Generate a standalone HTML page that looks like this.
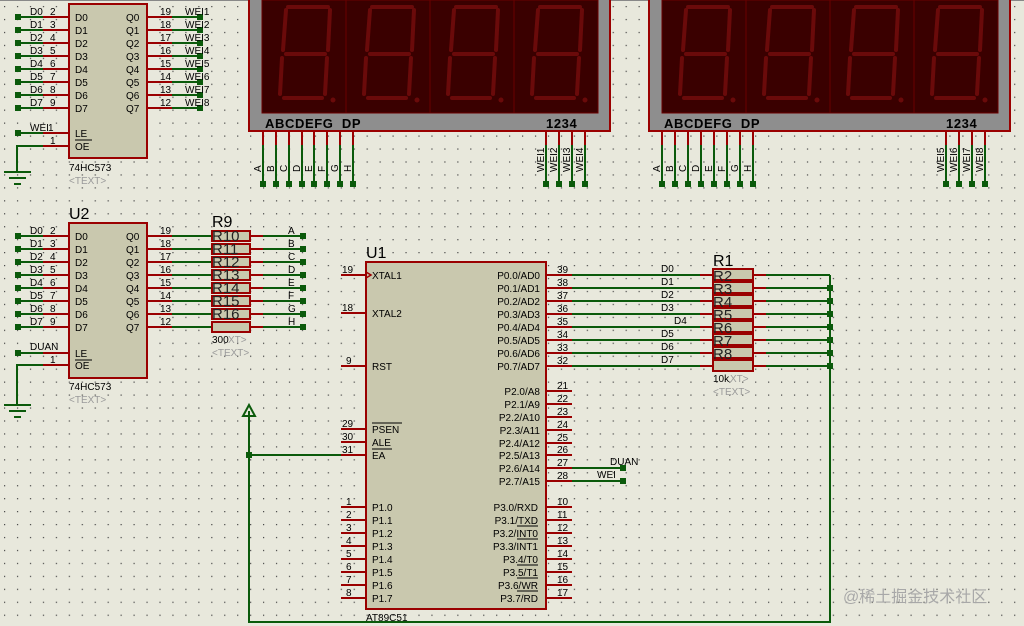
<!DOCTYPE html>
<html><head><meta charset="utf-8"><style>
html,body{margin:0;padding:0;background:#e8e8dc;}
svg{display:block;font-family:"Liberation Sans",sans-serif;}
.r{stroke:#9a0000;stroke-width:2;fill:none}
.g{stroke:#0b5a0b;stroke-width:2;fill:none}
.t{font-size:10px;fill:#000}
.gt{font-size:10px;fill:#9a9a9a}
.big{font-size:16px;fill:#000}
.chip{fill:#c9c8ae;stroke:#9a0000;stroke-width:2}
.seg{stroke:#6a0a0a;stroke-width:4;fill:none;stroke-linecap:round}
.dl{font-size:13px;font-weight:bold;fill:#000;letter-spacing:0.6px}
</style></head><body>
<svg width="1024" height="626" viewBox="0 0 1024 626" xmlns="http://www.w3.org/2000/svg">
<defs>
<pattern id="dots" x="4" y="0" width="12.95" height="12.95" patternUnits="userSpaceOnUse"><rect x="0" y="6" width="1.2" height="1.2" fill="#444"/></pattern>
<g id="dig">
<rect x="0" y="0" width="84" height="113" fill="#3a0000" stroke="#6a0000" stroke-width="1"/>
<path class="seg" d="M26 7 L66 7 M24 10 L21 50 M68 10 L66 50 M24 54 L63 54 M20 58 L18 94 M65 58 L63 94 M22 98 L60 98"/>
<circle cx="71" cy="100" r="2.5" fill="#6a0a0a"/>
</g>
<g id="gnd"><line class="g" x1="0" y1="0" x2="27" y2="0"/><line class="g" x1="5" y1="6" x2="22" y2="6"/><line class="g" x1="10" y1="12" x2="17" y2="12" stroke-width="1.5"/></g>
<rect id="dt" x="-3" y="-3" width="6" height="6" fill="#0b5a0b"/>
</defs>
<rect width="1024" height="626" fill="#e8e8dc"/>
<rect width="1024" height="626" fill="url(#dots)"/>
<line x1="0" y1="0.5" x2="1024" y2="0.5" stroke="#888"/>

<!-- ===== Top latch ===== -->
<g>
<path class="g" d="M18 17H43M18 30H43M18 43H43M18 56H43M18 69H43M18 82H43M18 95H43M18 108H43M18 133H43"/>
<path class="r" d="M43 17H69M43 30H69M43 43H69M43 56H69M43 69H69M43 82H69M43 95H69M43 108H69M43 133H69M43 146H69"/>
<path class="g" d="M43 146H17V172"/>
<use href="#gnd" x="4" y="172"/>
<use href="#dt" x="18" y="17"/><use href="#dt" x="18" y="30"/><use href="#dt" x="18" y="43"/><use href="#dt" x="18" y="56"/><use href="#dt" x="18" y="69"/><use href="#dt" x="18" y="82"/><use href="#dt" x="18" y="95"/><use href="#dt" x="18" y="108"/><use href="#dt" x="18" y="133"/>
<path class="r" d="M147 17H172M147 30H172M147 43H172M147 56H172M147 69H172M147 82H172M147 95H172M147 108H172"/>
<path class="g" d="M172 17H200M172 30H200M172 43H200M172 56H200M172 69H200M172 82H200M172 95H200M172 108H200"/>
<use href="#dt" x="200" y="17"/><use href="#dt" x="200" y="30"/><use href="#dt" x="200" y="43"/><use href="#dt" x="200" y="56"/><use href="#dt" x="200" y="69"/><use href="#dt" x="200" y="82"/><use href="#dt" x="200" y="95"/><use href="#dt" x="200" y="108"/>
<rect class="chip" x="69" y="4" width="78" height="154"/>
<g class="t">
<text x="30" y="15">D0</text><text x="50" y="15">2</text>
<text x="30" y="28">D1</text><text x="50" y="28">3</text>
<text x="30" y="41">D2</text><text x="50" y="41">4</text>
<text x="30" y="54">D3</text><text x="50" y="54">5</text>
<text x="30" y="67">D4</text><text x="50" y="67">6</text>
<text x="30" y="80">D5</text><text x="50" y="80">7</text>
<text x="30" y="93">D6</text><text x="50" y="93">8</text>
<text x="30" y="106">D7</text><text x="50" y="106">9</text>
<text x="30" y="131">WEI</text><text x="48" y="131">1</text><text x="50" y="144">1</text>
<text x="75" y="21">D0</text><text x="75" y="34">D1</text><text x="75" y="47">D2</text><text x="75" y="60">D3</text><text x="75" y="73">D4</text><text x="75" y="86">D5</text><text x="75" y="99">D6</text><text x="75" y="112">D7</text>
<text x="75" y="137">LE</text><text x="75" y="150">OE</text>
<text x="126" y="21">Q0</text><text x="126" y="34">Q1</text><text x="126" y="47">Q2</text><text x="126" y="60">Q3</text><text x="126" y="73">Q4</text><text x="126" y="86">Q5</text><text x="126" y="99">Q6</text><text x="126" y="112">Q7</text>
<text x="160" y="15">19</text><text x="160" y="28">18</text><text x="160" y="41">17</text><text x="160" y="54">16</text><text x="160" y="67">15</text><text x="160" y="80">14</text><text x="160" y="93">13</text><text x="160" y="106">12</text>
<text x="185" y="15">WEI1</text><text x="185" y="28">WEI2</text><text x="185" y="41">WEI3</text><text x="185" y="54">WEI4</text><text x="185" y="67">WEI5</text><text x="185" y="80">WEI6</text><text x="185" y="93">WEI7</text><text x="185" y="106">WEI8</text>
<text x="69" y="171">74HC573</text>
</g>
<line x1="75" y1="140" x2="92" y2="140" stroke="#000" stroke-width="1"/>
<text class="gt" x="69" y="184">&lt;TEXT&gt;</text>
</g>

<!-- ===== Display 1 ===== -->
<g>
<rect x="249" y="-2" width="361" height="133" fill="#8e8e8e" stroke="#9a0000" stroke-width="2"/>
<use href="#dig" x="262" y="0"/><use href="#dig" x="346" y="0"/><use href="#dig" x="430" y="0"/><use href="#dig" x="514" y="0"/>
<text class="dl" x="265" y="128">ABCDEFG&#160;&#160;DP</text>
<text class="dl" x="546" y="128">1234</text>
<path class="r" d="M263 131V145M276 131V145M289 131V145M302 131V145M314 131V145M327 131V145M340 131V145M353 131V145M546 131V145M559 131V145M572 131V145M585 131V145"/>
<path class="g" d="M263 145V184M276 145V184M289 145V184M302 145V184M314 145V184M327 145V184M340 145V184M353 145V184M546 145V184M559 145V184M572 145V184M585 145V184"/>
<use href="#dt" x="263" y="184"/><use href="#dt" x="276" y="184"/><use href="#dt" x="289" y="184"/><use href="#dt" x="302" y="184"/><use href="#dt" x="314" y="184"/><use href="#dt" x="327" y="184"/><use href="#dt" x="340" y="184"/><use href="#dt" x="353" y="184"/><use href="#dt" x="546" y="184"/><use href="#dt" x="559" y="184"/><use href="#dt" x="572" y="184"/><use href="#dt" x="585" y="184"/>
<g class="t">
<text transform="translate(261,172) rotate(-90)">A</text><text transform="translate(274,172) rotate(-90)">B</text><text transform="translate(287,172) rotate(-90)">C</text><text transform="translate(300,172) rotate(-90)">D</text><text transform="translate(312,172) rotate(-90)">E</text><text transform="translate(325,172) rotate(-90)">F</text><text transform="translate(338,172) rotate(-90)">G</text><text transform="translate(351,172) rotate(-90)">H</text>
<text transform="translate(544,172) rotate(-90)">WEI1</text><text transform="translate(557,172) rotate(-90)">WEI2</text><text transform="translate(570,172) rotate(-90)">WEI3</text><text transform="translate(583,172) rotate(-90)">WEI4</text>
</g>
</g>

<!-- ===== Display 2 ===== -->
<g>
<rect x="649" y="-2" width="361" height="133" fill="#8e8e8e" stroke="#9a0000" stroke-width="2"/>
<use href="#dig" x="662" y="0"/><use href="#dig" x="746" y="0"/><use href="#dig" x="830" y="0"/><use href="#dig" x="914" y="0"/>
<text class="dl" x="664" y="128">ABCDEFG&#160;&#160;DP</text>
<text class="dl" x="946" y="128">1234</text>
<path class="r" d="M662 131V145M675 131V145M688 131V145M701 131V145M714 131V145M727 131V145M740 131V145M753 131V145M946 131V145M959 131V145M972 131V145M985 131V145"/>
<path class="g" d="M662 145V184M675 145V184M688 145V184M701 145V184M714 145V184M727 145V184M740 145V184M753 145V184M946 145V184M959 145V184M972 145V184M985 145V184"/>
<use href="#dt" x="662" y="184"/><use href="#dt" x="675" y="184"/><use href="#dt" x="688" y="184"/><use href="#dt" x="701" y="184"/><use href="#dt" x="714" y="184"/><use href="#dt" x="727" y="184"/><use href="#dt" x="740" y="184"/><use href="#dt" x="753" y="184"/><use href="#dt" x="946" y="184"/><use href="#dt" x="959" y="184"/><use href="#dt" x="972" y="184"/><use href="#dt" x="985" y="184"/>
<g class="t">
<text transform="translate(660,172) rotate(-90)">A</text><text transform="translate(673,172) rotate(-90)">B</text><text transform="translate(686,172) rotate(-90)">C</text><text transform="translate(699,172) rotate(-90)">D</text><text transform="translate(712,172) rotate(-90)">E</text><text transform="translate(725,172) rotate(-90)">F</text><text transform="translate(738,172) rotate(-90)">G</text><text transform="translate(751,172) rotate(-90)">H</text>
<text transform="translate(944,172) rotate(-90)">WEI5</text><text transform="translate(957,172) rotate(-90)">WEI6</text><text transform="translate(970,172) rotate(-90)">WEI7</text><text transform="translate(983,172) rotate(-90)">WEI8</text>
</g>
</g>

<!-- ===== U2 latch ===== -->
<g>
<text class="big" x="69" y="219">U2</text>
<path class="g" d="M18 236H43M18 249H43M18 262H43M18 275H43M18 288H43M18 301H43M18 314H43M18 327H43M18 353H43"/>
<path class="r" d="M43 236H69M43 249H69M43 262H69M43 275H69M43 288H69M43 301H69M43 314H69M43 327H69M43 353H69M43 365H69"/>
<path class="g" d="M43 365H17V405"/>
<use href="#gnd" x="4" y="405"/>
<use href="#dt" x="18" y="236"/><use href="#dt" x="18" y="249"/><use href="#dt" x="18" y="262"/><use href="#dt" x="18" y="275"/><use href="#dt" x="18" y="288"/><use href="#dt" x="18" y="301"/><use href="#dt" x="18" y="314"/><use href="#dt" x="18" y="327"/><use href="#dt" x="18" y="353"/>
<path class="r" d="M147 236H172M147 249H172M147 262H172M147 275H172M147 288H172M147 301H172M147 314H172M147 327H172"/>
<path class="g" d="M172 236H212M172 249H212M172 262H212M172 275H212M172 288H212M172 301H212M172 314H212M172 327H212"/>
<rect class="chip" x="69" y="223" width="78" height="155"/>
<g class="t">
<text x="30" y="234">D0</text><text x="50" y="234">2</text>
<text x="30" y="247">D1</text><text x="50" y="247">3</text>
<text x="30" y="260">D2</text><text x="50" y="260">4</text>
<text x="30" y="273">D3</text><text x="50" y="273">5</text>
<text x="30" y="286">D4</text><text x="50" y="286">6</text>
<text x="30" y="299">D5</text><text x="50" y="299">7</text>
<text x="30" y="312">D6</text><text x="50" y="312">8</text>
<text x="30" y="325">D7</text><text x="50" y="325">9</text>
<text x="30" y="350">DUAN</text><text x="50" y="363">1</text>
<text x="75" y="240">D0</text><text x="75" y="253">D1</text><text x="75" y="266">D2</text><text x="75" y="279">D3</text><text x="75" y="292">D4</text><text x="75" y="305">D5</text><text x="75" y="318">D6</text><text x="75" y="331">D7</text>
<text x="75" y="357">LE</text><text x="75" y="369">OE</text>
<text x="126" y="240">Q0</text><text x="126" y="253">Q1</text><text x="126" y="266">Q2</text><text x="126" y="279">Q3</text><text x="126" y="292">Q4</text><text x="126" y="305">Q5</text><text x="126" y="318">Q6</text><text x="126" y="331">Q7</text>
<text x="160" y="234">19</text><text x="160" y="247">18</text><text x="160" y="260">17</text><text x="160" y="273">16</text><text x="160" y="286">15</text><text x="160" y="299">14</text><text x="160" y="312">13</text><text x="160" y="325">12</text>
<text x="69" y="390">74HC573</text>
</g>
<line x1="75" y1="360" x2="92" y2="360" stroke="#000" stroke-width="1"/>
<text class="gt" x="69" y="403">&lt;TEXT&gt;</text>
<text class="big" x="212" y="227">R9</text>
<g fill="#c9c8ae" stroke="#9a0000" stroke-width="2">
<rect x="212" y="231" width="38" height="10"/><rect x="212" y="244" width="38" height="10"/><rect x="212" y="257" width="38" height="10"/><rect x="212" y="270" width="38" height="10"/><rect x="212" y="283" width="38" height="10"/><rect x="212" y="296" width="38" height="10"/><rect x="212" y="309" width="38" height="10"/><rect x="212" y="322" width="38" height="10"/>
</g>
<path class="r" d="M250 236H263M250 249H263M250 262H263M250 275H263M250 288H263M250 301H263M250 314H263M250 327H263"/>
<path class="g" d="M263 236H303M263 249H303M263 262H303M263 275H303M263 288H303M263 301H303M263 314H303M263 327H303"/>
<use href="#dt" x="303" y="236"/><use href="#dt" x="303" y="249"/><use href="#dt" x="303" y="262"/><use href="#dt" x="303" y="275"/><use href="#dt" x="303" y="288"/><use href="#dt" x="303" y="301"/><use href="#dt" x="303" y="314"/><use href="#dt" x="303" y="327"/>
<g style="font-size:15px;fill:#222">
<text x="212" y="241">R10</text><text x="212" y="254">R11</text><text x="212" y="267">R12</text><text x="212" y="280">R13</text><text x="212" y="293">R14</text><text x="212" y="306">R15</text><text x="212" y="319">R16</text>
</g>
<g class="t">
<text x="288" y="234">A</text><text x="288" y="247">B</text><text x="288" y="260">C</text><text x="288" y="273">D</text><text x="288" y="286">E</text><text x="288" y="299">F</text><text x="288" y="312">G</text><text x="288" y="325">H</text>
<text x="212" y="343">300</text>
</g>
<text class="gt" x="228" y="343">XT&gt;</text>
<text class="gt" x="212" y="356">&lt;TEXT&gt;</text>
</g>

<!-- ===== U1 ===== -->
<g>
<text class="big" x="366" y="258">U1</text>
<path class="r" d="M341 275H366M341 313H366M341 366H366M341 429H366M341 442H366M341 455H366M341 507H366M341 520H366M341 533H366M341 546H366M341 559H366M341 572H366M341 585H366M341 598H366"/>
<path class="r" d="M546 275H572M546 288H572M546 301H572M546 314H572M546 327H572M546 340H572M546 353H572M546 366H572M546 391H572M546 404H572M546 417H572M546 430H572M546 443H572M546 455H572M546 468H572M546 481H572M546 507H572M546 520H572M546 533H572M546 546H572M546 559H572M546 572H572M546 585H572M546 598H572"/>
<rect class="chip" x="366" y="262" width="180" height="347"/>
<path d="M366 272 L371 275 L366 278" fill="none" stroke="#9a0000" stroke-width="1.5"/>
<g class="t">
<text x="342" y="273">19</text><text x="342" y="311">18</text><text x="346" y="364">9</text><text x="342" y="427">29</text><text x="342" y="440">30</text><text x="342" y="453">31</text>
<text x="346" y="505">1</text><text x="346" y="518">2</text><text x="346" y="531">3</text><text x="346" y="544">4</text><text x="346" y="557">5</text><text x="346" y="570">6</text><text x="346" y="583">7</text><text x="346" y="596">8</text>
<text x="372" y="279">XTAL1</text><text x="372" y="317">XTAL2</text><text x="372" y="370">RST</text>
<text x="372" y="433">PSEN</text><text x="372" y="446">ALE</text><text x="372" y="459">EA</text>
<text x="372" y="511">P1.0</text><text x="372" y="524">P1.1</text><text x="372" y="537">P1.2</text><text x="372" y="550">P1.3</text><text x="372" y="563">P1.4</text><text x="372" y="576">P1.5</text><text x="372" y="589">P1.6</text><text x="372" y="602">P1.7</text>
</g>
<g class="t" text-anchor="end">
<text x="540" y="279">P0.0/AD0</text><text x="540" y="292">P0.1/AD1</text><text x="540" y="305">P0.2/AD2</text><text x="540" y="318">P0.3/AD3</text><text x="540" y="331">P0.4/AD4</text><text x="540" y="344">P0.5/AD5</text><text x="540" y="357">P0.6/AD6</text><text x="540" y="370">P0.7/AD7</text>
<text x="540" y="395">P2.0/A8</text><text x="540" y="408">P2.1/A9</text><text x="540" y="421">P2.2/A10</text><text x="540" y="434">P2.3/A11</text><text x="540" y="447">P2.4/A12</text><text x="540" y="459">P2.5/A13</text><text x="540" y="472">P2.6/A14</text><text x="540" y="485">P2.7/A15</text>
<text x="538" y="511">P3.0/RXD</text><text x="538" y="524">P3.1/TXD</text><text x="538" y="537">P3.2/INT0</text><text x="538" y="550">P3.3/INT1</text><text x="538" y="563">P3.4/T0</text><text x="538" y="576">P3.5/T1</text><text x="538" y="589">P3.6/WR</text><text x="538" y="602">P3.7/RD</text>
</g>
<g stroke="#000" stroke-width="1"><line x1="372" y1="423" x2="402" y2="423"/><line x1="372" y1="449" x2="392" y2="449"/><line x1="517" y1="526" x2="538" y2="526"/><line x1="517" y1="539" x2="538" y2="539"/><line x1="517" y1="565" x2="538" y2="565"/><line x1="517" y1="578" x2="538" y2="578"/><line x1="517" y1="591" x2="538" y2="591"/></g>
<g class="t">
<text x="557" y="273">39</text><text x="557" y="286">38</text><text x="557" y="299">37</text><text x="557" y="312">36</text><text x="557" y="325">35</text><text x="557" y="338">34</text><text x="557" y="351">33</text><text x="557" y="364">32</text>
<text x="557" y="389">21</text><text x="557" y="402">22</text><text x="557" y="415">23</text><text x="557" y="428">24</text><text x="557" y="441">25</text><text x="557" y="453">26</text><text x="557" y="466">27</text><text x="557" y="479">28</text>
<text x="557" y="505">10</text><text x="557" y="518">11</text><text x="557" y="531">12</text><text x="557" y="544">13</text><text x="557" y="557">14</text><text x="557" y="570">15</text><text x="557" y="583">16</text><text x="557" y="596">17</text>
<text x="366" y="621">AT89C51</text>
</g>
<path class="g" d="M572 468H623M572 481H623"/>
<use href="#dt" x="623" y="468"/><use href="#dt" x="623" y="481"/>
<text class="t" x="610" y="465">DUAN</text><text class="t" x="597" y="478">WEI</text>
<path class="g" d="M572 275H700M572 288H700M572 301H700M572 314H700M572 327H700M572 340H700M572 353H700M572 366H700"/>
<path class="r" d="M700 275H713M700 288H713M700 301H713M700 314H713M700 327H713M700 340H713M700 353H713M700 366H713M753 275H766M753 288H766M753 301H766M753 314H766M753 327H766M753 340H766M753 353H766M753 366H766"/>
<path class="g" d="M766 275H830M766 288H830M766 301H830M766 314H830M766 327H830M766 340H830M766 353H830M766 366H830"/>
<path class="g" d="M830 275V622H249V411"/>
<path d="M249 405 L243 416 L255 416 Z" fill="none" stroke="#0b5a0b" stroke-width="2"/>
<path class="g" d="M341 455H249"/>
<use href="#dt" x="249" y="455"/>
<use href="#dt" x="830" y="288"/><use href="#dt" x="830" y="301"/><use href="#dt" x="830" y="314"/><use href="#dt" x="830" y="327"/><use href="#dt" x="830" y="340"/><use href="#dt" x="830" y="353"/><use href="#dt" x="830" y="366"/>
<g fill="#c9c8ae" stroke="#9a0000" stroke-width="2">
<rect x="713" y="269" width="40" height="11"/><rect x="713" y="282" width="40" height="11"/><rect x="713" y="295" width="40" height="11"/><rect x="713" y="308" width="40" height="11"/><rect x="713" y="321" width="40" height="11"/><rect x="713" y="334" width="40" height="11"/><rect x="713" y="347" width="40" height="11"/><rect x="713" y="360" width="40" height="11"/>
</g>
<text class="big" x="713" y="266">R1</text>
<g style="font-size:15px;fill:#222">
<text x="713" y="281">R2</text><text x="713" y="294">R3</text><text x="713" y="307">R4</text><text x="713" y="320">R5</text><text x="713" y="333">R6</text><text x="713" y="346">R7</text><text x="713" y="359">R8</text>
</g>
<g class="t">
<text x="661" y="272">D0</text><text x="661" y="285">D1</text><text x="661" y="298">D2</text><text x="661" y="311">D3</text><text x="674" y="324">D4</text><text x="661" y="337">D5</text><text x="661" y="350">D6</text><text x="661" y="363">D7</text>
<text x="713" y="382">10k</text>
</g>
<text class="gt" x="730" y="382">XT&gt;</text>
<text class="gt" x="713" y="395">&lt;TEXT&gt;</text>
</g>

<text x="843" y="602" style="font-size:16px;fill:#a8a8a8;font-family:'Liberation Sans','Noto Sans CJK SC',sans-serif">@稀土掘金技术社区</text>
</svg>
</body></html>
